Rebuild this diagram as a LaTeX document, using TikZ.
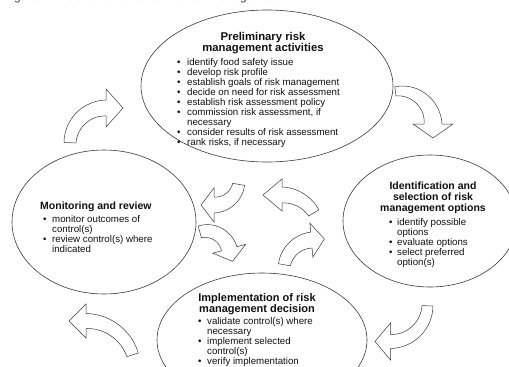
\documentclass[tikz,border=0pt]{standalone}
\usepackage{fontspec}
\setmainfont{Liberation Sans}
\usetikzlibrary{calc}
\definecolor{lin}{HTML}{3A3A3A}
\definecolor{txt}{HTML}{111111}
\newcommand\bl{\textbullet}
\newcommand\rs{\rule[-3pt]{0pt}{10pt}}
% curved block arrow: cx cy r a1 a2 wtail whead headhalf headlen
\newcommand\carrow[9]{%
 \pgfmathsetmacro\sgn{sign(#5-#4)}%
 \pgfmathsetmacro\ob{#3+#8}%
 \pgfmathsetmacro\ib{#3-#8}%
 \pgfmathsetmacro\ta{#5+\sgn*90}%
 \draw[blockarrow]
  plot[domain=#4:#5,samples=30,variable=\t] ({#1+(#3+#6+(#7-#6)*(\t-#4)/(#5-#4))*cos(\t)},{#2+(#3+#6+(#7-#6)*(\t-#4)/(#5-#4))*sin(\t)})
  -- ($(#1,#2)+(#5:\ob)$)
  -- ($(#1,#2)+(#5:#3)+(\ta:#9)$)
  -- ($(#1,#2)+(#5:\ib)$)
  -- plot[domain=#5:#4,samples=30,variable=\t] ({#1+(#3-#6-(#7-#6)*(\t-#4)/(#5-#4))*cos(\t)},{#2+(#3-#6-(#7-#6)*(\t-#4)/(#5-#4))*sin(\t)})
  -- cycle;}
\tikzset{
 ttl/.style={inner sep=0pt, align=center, text=txt, font=\fontsize{10.5}{11}\selectfont\bfseries},
 body/.style={inner sep=0pt, text=txt, font=\fontsize{9.7}{9.9}\selectfont},
 oval/.style={draw=lin, line width=0.6pt},
 blockarrow/.style={draw=lin, line width=0.5pt, fill=white, line join=miter},
}
\begin{document}
\begin{tikzpicture}[x=1pt,y=1pt,yscale=-1]
\useasboundingbox (0,0) rectangle (509,367);
\clip (0,0) rectangle (509,367);
\fill[white] (0,0) rectangle (509,367);
% caption (cut off at top)
\node[anchor=base west, inner sep=0pt, text=txt!80, font=\fontsize{12}{12}\selectfont] (cap) at (4,0) {Figure 2.1. Generic framework for risk management};
% ellipses
\draw[oval] (267,86) ellipse [x radius=126, y radius=76];
\draw[oval] (104,222) ellipse [x radius=92, y radius=72];
\draw[oval] (430,221) ellipse [x radius=87, y radius=66];
\draw[oval] (262,340) ellipse [x radius=105, y radius=67];
% outer arrows
\carrow{106}{144}{36}{182}{270}{6}{8}{19}{17}
\carrow{400}{124}{33}{262}{360}{4.5}{9}{20}{14}
\carrow{390.5}{304.5}{37}{2}{90}{5.5}{7}{18.5}{15.5}
\carrow{86}{370}{49}{342}{270}{6}{7.5}{17}{17}
% inner arrows
\carrow{214}{180}{25}{10}{90}{6}{8}{17}{13}
\carrow{282}{232}{37}{329}{270}{6}{8}{16}{19}
\carrow{206}{255}{24}{255}{345}{6}{8}{17}{13}
\carrow{314}{270}{30}{190}{265}{6}{8}{17}{13}
% texts
\node[ttl, font=\fontsize{11.3}{11}\selectfont\bfseries, anchor=north] (t1) at (263,32) {Preliminary risk\\management activities};
\node[body, anchor=north west] (l1) at (177,58) {\renewcommand\arraystretch{0}\begin{tabular}{@{}p{10pt}@{}l@{}}
\rs\bl & identify food safety issue\\
\rs\bl & develop risk profile\\
\rs\bl & establish goals of risk management\\
\rs\bl & decide on need for risk assessment\\
\rs\bl & establish risk assessment policy\\
\rs\bl & commission risk assessment, if\\
\rs    & necessary\\
\rs\bl & consider results of risk assessment\\
\rs\bl & rank risks, if necessary
\end{tabular}};
\node[ttl, anchor=north west] (t2) at (40,201.5) {Monitoring and review};
\node[body, anchor=north west] (l2) at (43,215) {\renewcommand\arraystretch{0}\begin{tabular}{@{}p{9pt}@{}l@{}}
\rs\bl & monitor outcomes of\\
\rs    & control(s)\\
\rs\bl & review control(s) where\\
\rs    & indicated
\end{tabular}};
\node[ttl, anchor=north] (t3) at (433,181.5) {Identification and\\selection of risk\\management options};
\node[body, anchor=north west] (l3) at (389,218) {\renewcommand\arraystretch{0}\begin{tabular}{@{}p{8pt}@{}l@{}}
\rs\bl & identify possible\\
\rs    & options\\
\rs\bl & evaluate options\\
\rs\bl & select preferred\\
\rs    & option(s)
\end{tabular}};
\node[ttl, font=\fontsize{11}{11}\selectfont\bfseries, anchor=north] (t4) at (257,293) {Implementation of risk\\management decision};
\node[body, anchor=north west] (l4) at (198,317) {\renewcommand\arraystretch{0}\begin{tabular}{@{}p{9pt}@{}l@{}}
\rs\bl & validate control(s) where\\
\rs    & necessary\\
\rs\bl & implement selected\\
\rs    & control(s)\\
\rs\bl & verify implementation
\end{tabular}};
\end{tikzpicture}
\end{document}
